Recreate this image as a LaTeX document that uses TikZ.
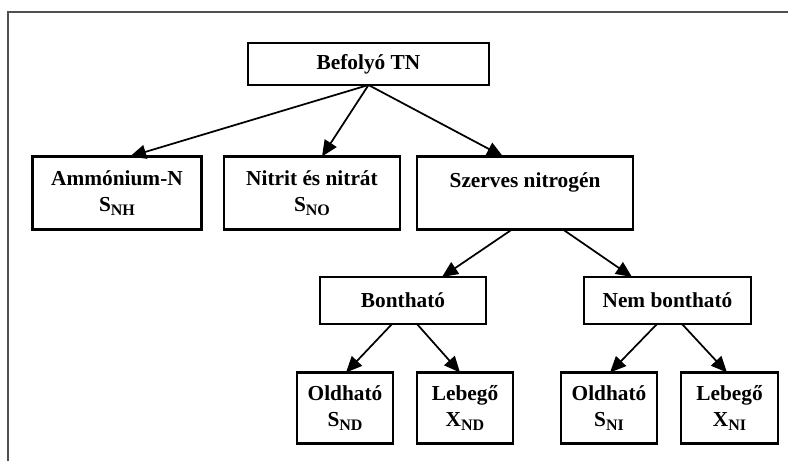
\documentclass[tikz,border=0pt]{standalone}
\usepackage{fontspec}
\setmainfont{Liberation Serif}
\usetikzlibrary{arrows.meta,calc}
\definecolor{framegray}{RGB}{80,80,80}
% lowered, smaller index letters
\newcommand{\idx}[1]{\raisebox{-2.5pt}{\fontsize{12}{12}\selectfont #1}}

\begin{document}
\begin{tikzpicture}[x=0.75pt,y=-0.75pt,
  box/.style={draw,line width=1.6pt,align=center,inner sep=0pt,outer sep=0pt,
    font=\bfseries\fontsize{16}{19.5}\selectfont},
  link/.style={line width=1.3pt,-{Triangle[length=12pt,width=10.5pt]}},
  frameline/.style={draw=framegray,line width=1.5pt}]

\useasboundingbox (0,0) rectangle (788,461);
\fill[white] (0,0) rectangle (788,461);

% page frame (top and left edges)
\coordinate (fbl) at (7.8,461);
\coordinate (ftl) at (7.8,11.8);
\coordinate (ftr) at (788,11.8);
\draw[frameline] (fbl) -- (ftl) -- (ftr);

% boxes
\node[box,minimum width=241*0.75pt,minimum height=42*0.75pt] (tn)   at (368.5,64) {Befolyó TN};
\node[box,minimum width=169*0.75pt,minimum height=73*0.75pt] (amm)  at (117,193) {Ammónium-N\\S\idx{NH}};
\node[box,minimum width=176*0.75pt,minimum height=73*0.75pt] (nit)  at (312,193) {Nitrit és nitrát\\S\idx{NO}};
\node[box,minimum width=216*0.75pt,minimum height=73*0.75pt] (szer) at (525,193) {Szerves nitrogén\\\mbox{}};
\node[box,minimum width=166*0.75pt,minimum height=47*0.75pt] (bont) at (403,300.5) {Bontható};
\node[box,minimum width=167*0.75pt,minimum height=47*0.75pt] (nem)  at (667.5,300.5) {Nem bontható};
\node[box,minimum width=96*0.75pt,minimum height=71*0.75pt] (old1) at (345,408) {Oldható\\S\idx{ND}};
\node[box,minimum width=96*0.75pt,minimum height=71*0.75pt] (leb1) at (465,408) {Lebegő\\X\idx{ND}};
\node[box,minimum width=96*0.75pt,minimum height=71*0.75pt] (old2) at (609,408) {Oldható\\S\idx{NI}};
\node[box,minimum width=97*0.75pt,minimum height=71*0.75pt] (leb2) at (729.5,408) {Lebegő\\X\idx{NI}};

% connectors
\draw[link] (tn.south) -- ($(amm.north)+(13,0)$);
\draw[link] (tn.south) -- ($(nit.north)+(10,0)$);
\draw[link] (tn.south) -- ($(szer.north)+(-22,0)$);

\draw[link] ($(szer.south)+(-13,0)$) -- ($(bont.north)+(39,0)$);
\draw[link] ($(szer.south)+(38,0)$) -- ($(nem.north)+(-35.5,0)$);

\draw[link] ($(bont.south)+(-11,0)$) -- ($(old1.north)+(1,0)$);
\draw[link] ($(bont.south)+(14,0)$) -- ($(leb1.north)+(-5,0)$);
\draw[link] ($(nem.south)+(-10.5,0)$) -- ($(old2.north)+(1,0)$);
\draw[link] ($(nem.south)+(14.5,0)$) -- ($(leb2.north)+(-2.5,0)$);
\end{tikzpicture}
\end{document}
